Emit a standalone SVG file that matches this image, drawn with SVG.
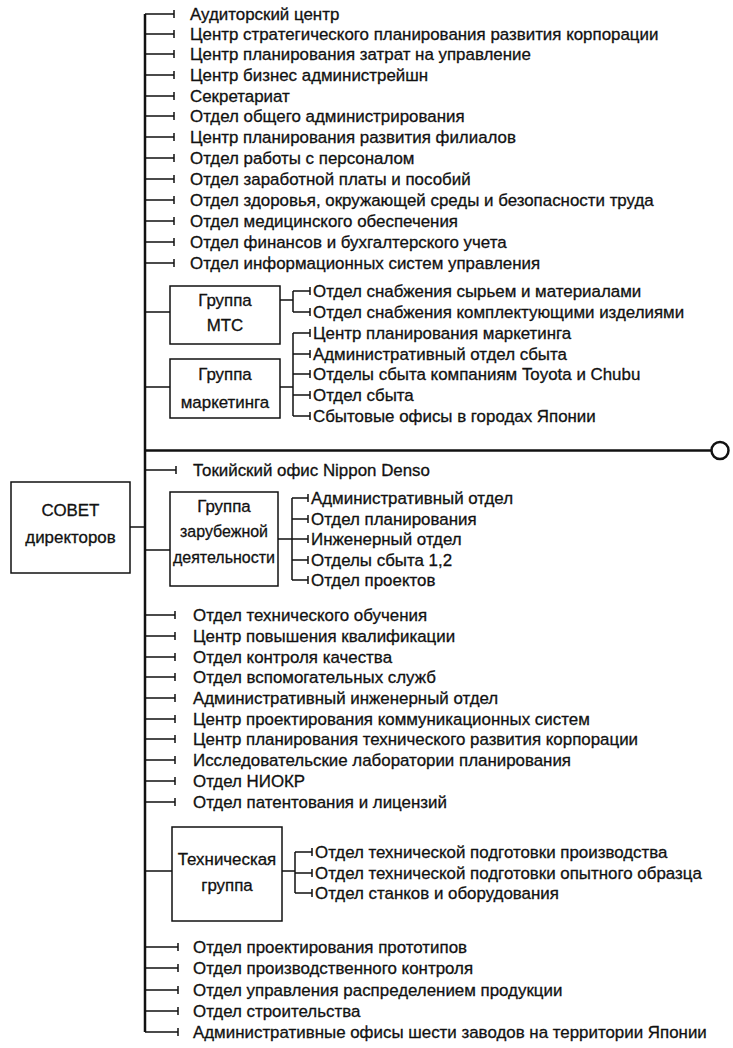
<svg xmlns="http://www.w3.org/2000/svg" width="733" height="1048" viewBox="0 0 733 1048">
<style>
text{font-family:"Liberation Sans",Arial,sans-serif;font-size:16.9px;fill:#111;stroke:#111;stroke-width:0.3}
.c{text-anchor:middle}
.ln{stroke:#111;stroke-width:1.5;fill:none}
.main{stroke:#111;stroke-width:2.5;fill:none}
.box{stroke:#111;stroke-width:1.5;fill:#fff}
</style>
<rect width="733" height="1048" fill="#fff"/>
<g id="connectors">
<path class="main" d="M145,14V1032"/>
<path class="main" d="M145,450.5H711.5"/>
<circle cx="720" cy="450.5" r="8.5" fill="#fff" stroke="#111" stroke-width="2.5"/>
<path class="ln" d="M145,14H174M145,34H174M145,54H174M145,75H174M145,96H174M145,116H174M145,137H174M145,158H174M145,179H174M145,200H174M145,221H174M145,242H174M145,263H174"/>
<path class="ln" d="M174,10V18M174,30V38M174,50V58M174,71V79M174,92V100M174,112V120M174,133V141M174,154V162M174,175V183M174,196V204M174,217V225M174,238V246M174,259V267"/>
<path class="ln" d="M145,312H170M280,300H293M293,291V312M293,291H310M293,312H310M310,287V295M310,308V316"/>
<path class="ln" d="M145,387H170M280,387H293M293,333V416M293,333H310M293,354H310M293,374H310M293,395H310M293,416H310M310,329V337M310,350V358M310,370V378M310,391V399M310,412V420"/>
<path class="ln" d="M130,527H145"/>
<path class="ln" d="M145,470H176M176,466V474"/>
<path class="ln" d="M145,550H170M278,539H292M292,498V580M292,498H308M292,519H308M292,539H308M292,560H308M292,580H308M308,494V502M308,515V523M308,535V543M308,556V564M308,576V584"/>
<path class="ln" d="M145,615H175M145,636H175M145,657H175M145,677H175M145,698H175M145,719H175M145,739H175M145,760H175M145,781H175M145,802H175"/>
<path class="ln" d="M175,611V619M175,632V640M175,653V661M175,673V681M175,694V702M175,715V723M175,735V743M175,756V764M175,777V785M175,798V806"/>
<path class="ln" d="M145,871H172M282,871H295M295,852V893M295,852H312M295,873H312M295,893H312M312,848V856M312,869V877M312,889V897"/>
<path class="ln" d="M145,947H178M145,968H178M145,990H178M145,1011H178M145,1032H178"/>
<path class="ln" d="M178,943V951M178,964V972M178,986V994M178,1007V1015M178,1028V1036"/>
</g>
<g id="board"><rect class="box" x="11" y="482" width="119" height="91"/><text class="c" x="70.5" y="516">СОВЕТ</text><text class="c" x="70.5" y="543">директоров</text></g>
<g id="top-list">
<text x="190" y="20">Аудиторский центр</text>
<text x="190" y="40">Центр стратегического планирования развития корпорации</text>
<text x="190" y="60">Центр планирования затрат на управление</text>
<text x="190" y="81">Центр бизнес администрейшн</text>
<text x="190" y="102">Секретариат</text>
<text x="190" y="122">Отдел общего администрирования</text>
<text x="190" y="143">Центр планирования развития филиалов</text>
<text x="190" y="164">Отдел работы с персоналом</text>
<text x="190" y="185">Отдел заработной платы и пособий</text>
<text x="190" y="206">Отдел здоровья, окружающей среды и безопасности труда</text>
<text x="190" y="227">Отдел медицинского обеспечения</text>
<text x="190" y="248">Отдел финансов и бухгалтерского учета</text>
<text x="190" y="269">Отдел информационных систем управления</text>
</g>
<g id="mtc"><rect class="box" x="170" y="286" width="110" height="58"/><text class="c" x="225" y="306">Группа</text><text class="c" x="225" y="331">МТС</text>
<text x="313" y="297">Отдел снабжения сырьем и материалами</text>
<text x="313" y="318">Отдел снабжения комплектующими изделиями</text></g>
<g id="marketing"><rect class="box" x="170" y="359" width="110" height="59"/><text class="c" x="225" y="380">Группа</text><text class="c" x="225" y="408">маркетинга</text>
<text x="313" y="339">Центр планирования маркетинга</text>
<text x="313" y="360">Административный отдел сбыта</text>
<text x="313" y="380">Отделы сбыта компаниям Toyota и Chubu</text>
<text x="313" y="401">Отдел сбыта</text>
<text x="313" y="422">Сбытовые офисы в городах Японии</text></g>
<g id="tokyo"><text x="193" y="476">Токийский офис Nippon Denso</text></g>
<g id="foreign"><rect class="box" x="170" y="492" width="108" height="94"/><text class="c" x="224" y="512">Группа</text><text class="c" x="224" y="537" textLength="88" lengthAdjust="spacingAndGlyphs">зарубежной</text><text class="c" x="224" y="563" textLength="102" lengthAdjust="spacingAndGlyphs">деятельности</text>
<text x="311" y="504">Административный отдел</text>
<text x="311" y="525">Отдел планирования</text>
<text x="311" y="545">Инженерный отдел</text>
<text x="311" y="566">Отделы сбыта 1,2</text>
<text x="311" y="586">Отдел проектов</text></g>
<g id="middle-list">
<text x="193" y="621">Отдел технического обучения</text>
<text x="193" y="642">Центр повышения квалификации</text>
<text x="193" y="663">Отдел контроля качества</text>
<text x="193" y="683">Отдел вспомогательных служб</text>
<text x="193" y="704">Административный инженерный отдел</text>
<text x="193" y="725">Центр проектирования коммуникационных систем</text>
<text x="193" y="745">Центр планирования технического развития корпорации</text>
<text x="193" y="766">Исследовательские лаборатории планирования</text>
<text x="193" y="787">Отдел НИОКР</text>
<text x="193" y="808">Отдел патентования и лицензий</text>
</g>
<g id="tech"><rect class="box" x="172" y="827" width="110" height="94"/><text class="c" x="227" y="865">Техническая</text><text class="c" x="227" y="891">группа</text>
<text x="315" y="858">Отдел технической подготовки производства</text>
<text x="315" y="879">Отдел технической подготовки опытного образца</text>
<text x="315" y="899">Отдел станков и оборудования</text></g>
<g id="bottom-list">
<text x="193" y="953">Отдел проектирования прототипов</text>
<text x="193" y="974">Отдел производственного контроля</text>
<text x="193" y="996">Отдел управления распределением продукции</text>
<text x="193" y="1017">Отдел строительства</text>
<text x="193" y="1038">Административные офисы шести заводов на территории Японии</text>
</g>
</svg>
